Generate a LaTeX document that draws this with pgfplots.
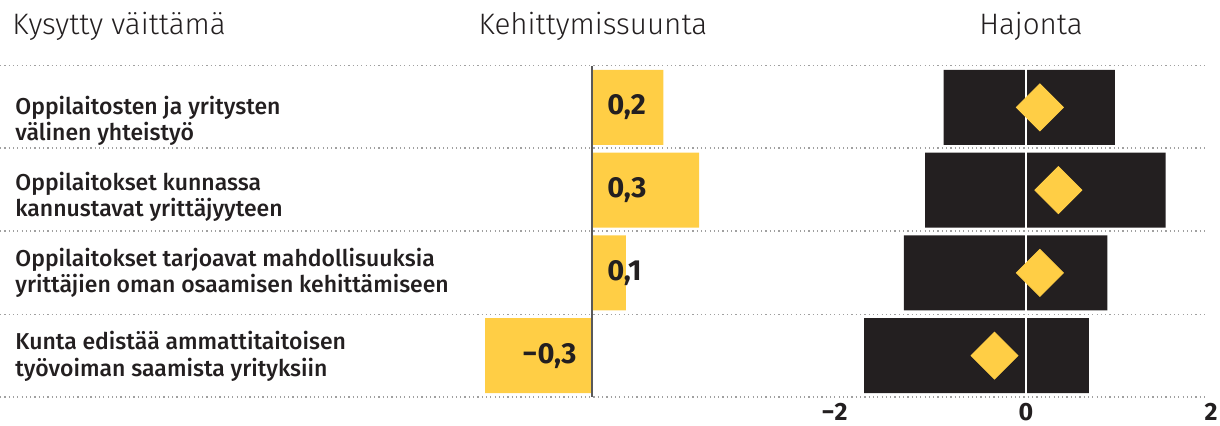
\documentclass[border=0pt]{standalone}
\usepackage{fontspec}
\setmainfont{Fira Sans}
\IfFontExistsTF{Fira Sans Light}
  {\newfontfamily\lightf{Fira Sans Light}}
  {\IfFontExistsTF{FiraSans-Light}
    {\newfontfamily\lightf{FiraSans-Light}}
    {\newfontfamily\lightf{Fira Sans}}}
\IfFontExistsTF{Fira Sans Medium}
  {\newfontfamily\medf{Fira Sans Medium}}
  {\IfFontExistsTF{FiraSans-Medium}
    {\newfontfamily\medf{FiraSans-Medium}}
    {\newfontfamily\medf{Fira Sans}}}
\usepackage{pgfplots}
\usepackage{pgfplotstable}
\pgfplotsset{compat=1.18}

\definecolor{hsyellow}{HTML}{FFCE45}
\definecolor{hsdark}{HTML}{231F20}
\definecolor{dotgray}{HTML}{A0A0A0}

% row, development (bar), spread low/high, mean (diamond)
\pgfplotstableread{
row val   lo    hi   mean
1   0.2   -0.89 0.96  0.15
2   0.3   -1.09 1.51  0.35
3   0.095 -1.32 0.88  0.15
4   -0.3  -1.75 0.68 -0.34
}\datatab

\pgfplotsset{
  rowaxis/.style={
    scale only axis, height=165.5pt,
    ymin=0.5, ymax=4.5, y dir=reverse,
    ytick=\empty, major tick length=0pt,
    axis line style={draw=none}, clip=false,
  },
}

\newcommand\hdr{\lightf\fontsize{14.8}{18}\selectfont}
\newcommand\lbl{\medf\fontsize{11.5}{14}\selectfont}
\newcommand\num{\bfseries\fontsize{14.5}{16}\selectfont}

\begin{document}
\begin{tikzpicture}[x=0.5pt,y=-0.5pt]
% row separators
\foreach \yy in {65.5,148,231,314.5,397}
  \draw[dotgray, line width=0.6pt, dash pattern=on 0.6pt off 1.55pt] (0,\yy) -- (1205,\yy);

% headers
\node[anchor=base west, inner sep=0pt, font=\hdr, text=hsdark] at (12,35) {Kysytty väittämä};
\node[anchor=base, inner sep=0pt, font=\hdr, text=hsdark] at (593,35) {Kehittymissuunta};
\node[anchor=base, inner sep=0pt, font=\hdr, text=hsdark] at (1031,35) {Hajonta};

% statements
\begin{scope}[every node/.style={anchor=base west, inner sep=0pt, font=\lbl, text=hsdark}]
\node at (15,115) {Oppilaitosten ja yritysten};
\node at (15,141) {välinen yhteistyö};
\node at (15,191) {Oppilaitokset kunnassa};
\node at (15,217) {kannustavat yrittäjyyteen};
\node at (15,267) {Oppilaitokset tarjoavat mahdollisuuksia};
\node at (15,293) {yrittäjien oman osaamisen kehittämiseen};
\node at (15,350) {Kunta edistää ammattitaitoisen};
\node at (15,377) {työvoiman saamista yrityksiin};
\end{scope}

% development direction
\begin{axis}[rowaxis, at={(242.5pt,-198.5pt)}, anchor=south west,
  width=107pt, xmin=-0.3, xmax=0.3, xtick=\empty]
\addplot[xbar, bar shift=0pt, bar width=0.906, fill=hsyellow, draw=none]
  table[x=val, y=row]{\datatab};
\addplot[draw=gray!70!black, line width=0.7pt] coordinates {(0,0.5) (0,4.5)};
\addplot[draw=none, nodes near coords, point meta=explicit symbolic,
  nodes near coords style={anchor=west, inner sep=0pt, xshift=7.5pt, font=\num, text=hsdark}]
  coordinates {(0,1) [0,2] (0,2) [0,3] (0,3) [0,1]};
\addplot[draw=none, nodes near coords, point meta=explicit symbolic,
  nodes near coords style={anchor=east, inner sep=0pt, xshift=-7.5pt, font=\num, text=hsdark}]
  coordinates {(0,4) [−0,3]};
\end{axis}

% spread
\begin{axis}[rowaxis, at={(420.5pt,-198.5pt)}, anchor=south west,
  width=185pt, xmin=-2, xmax=2,
  xtick={-2,0,2}, xticklabels={\llap{−}2,0,2},
  xticklabel style={anchor=base, yshift=-11.5pt, inner sep=0pt,
    font=\bfseries\fontsize{12.5}{14}\selectfont, text=hsdark}]
\addplot[xbar, bar shift=0pt, bar width=0.906, fill=hsdark, draw=none]
  table[x=hi, y=row]{\datatab};
\addplot[xbar, bar shift=0pt, bar width=0.906, fill=hsdark, draw=none]
  table[x=lo, y=row]{\datatab};
\addplot[white, line width=1pt] coordinates {(0,0.5) (0,4.5)};
\addplot[hsyellow, only marks, mark=square*, mark size=8.3pt,
  mark options={rotate=45, fill=hsyellow, draw=hsyellow}]
  table[x=mean, y=row]{\datatab};
\end{axis}

\pgfresetboundingbox
\path (0,0) rectangle (1220,426);
\end{tikzpicture}
\end{document}
